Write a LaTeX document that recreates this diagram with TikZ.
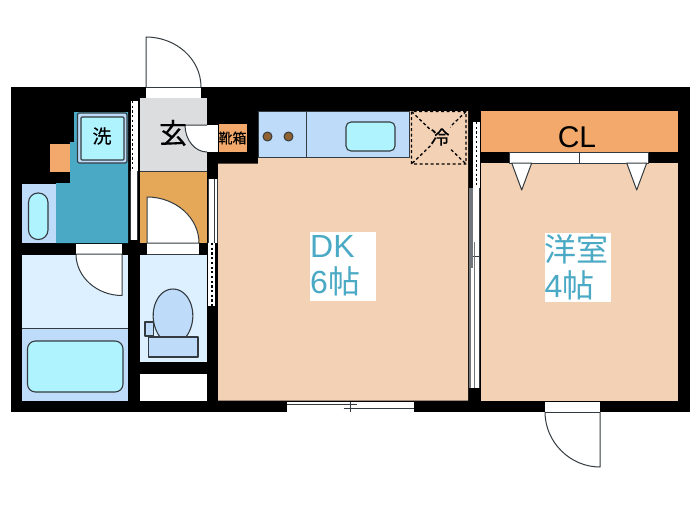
\documentclass[tikz,border=0pt]{standalone}
\usepackage{fontspec}
\setmainfont{Liberation Sans}
\newfontfamily\jpfont{Noto Sans CJK JP}
\newfontfamily\jpheavy[FakeBold=0.3]{Noto Sans CJK JP}
\definecolor{floorc}{HTML}{F2D1B4}
\definecolor{closetc}{HTML}{F2A96B}
\definecolor{entryc}{HTML}{E5A858}
\definecolor{tealc}{HTML}{4AA9C4}
\definecolor{bluec}{HTML}{BEDCFA}
\definecolor{palec}{HTML}{DDF0FF}
\definecolor{waterc}{HTML}{AFF3FF}
\definecolor{greyc}{HTML}{DCDDDF}
\definecolor{linec}{HTML}{333B40}
\tikzset{
	fix/.style={draw=linec,line width=1.1pt},
	doorline/.style={draw=linec,line width=1pt,fill=white},
	dots/.style={black,line width=1.3pt,dash pattern=on 2.2pt off 2.5pt},
	rail/.style={linec,line width=1pt},
	room/.style={font=\fontsize{32}{36}\selectfont,text=tealc,fill=white,align=left,inner sep=0pt,text width=66pt,minimum height=69pt},
	tag/.style={inner sep=0pt,font=\jpheavy\fontsize{#1}{#1}\selectfont}
}
\begin{document}
\begin{tikzpicture}[x=1pt,y=-1pt,line join=round]
	\useasboundingbox (0,0) rectangle (700,525);
	\fill[white] (0,0) rectangle (700,525);
	\fill[black] (10.5,86.5) rectangle (690,412);
	\fill[floorc] (218,163.5)--(258,163.5)--(258,157.5)--(409,157.5)--(409,111)--(468,111)--(468,400.5)--(218,400.5)--cycle;
	\fill[floorc] (481,163)rectangle(678,400.5);
	\fill[closetc] (480.5,111) rectangle (678,152);
	\fill[greyc] (139.5,98) rectangle (207,171);
	\fill[entryc] (139.5,171) rectangle (207,243);
	\draw[rail] (139.5,171)--(207,171);
	\fill[tealc] (74,112)--(128,112)--(128,243)--(56,243)--(56,183)--(70,183)--(70,142)--(74,142)--cycle;
	\fill[closetc] (49.5,144) rectangle (70,172);
	\fill[bluec] (22,184) rectangle (55.5,243);
	\fill[palec] (22,255) rectangle (128,328);
	\fill[bluec] (22,328) rectangle (128,400.5);
	\draw[rail] (22,328)--(128,328);
	\fill[palec] (139.5,255) rectangle (207,361.5);
	\fill[white] (139.5,373.5) rectangle (207,400.5);
	\fill[closetc] (218.5,124) rectangle (246.5,152);
	\filldraw[fill=bluec,draw=linec,line width=0.8pt] (258,111) rectangle (409,157.5);
	\draw[rail] (306.7,111)--(306.7,157.5);
	\draw[fix,fill=waterc,rounded corners=5pt] (346,122) rectangle (395,151);
	\foreach \bx in {267.5,288.5}
		{\draw[fill=brown!75!black,draw=linec,line width=1pt] (\bx,136.5) circle (4.5);}
	\draw[black,line width=1.3pt,dash pattern=on 3pt off 2.5pt] (411.5,111.5) rectangle (466,164)
		(411.5,111.5)--(466,164) (466,111.5)--(411.5,164);
	\fill[floorc] (431,125) rectangle (450,150);
	% washer and basin
	\draw[fix,fill=bluec,rounded corners=2pt] (77.5,113) rectangle (127,163);
	\draw[fix,fill=waterc,rounded corners=1pt] (81,117) rectangle (124,160);
	\draw[fix,fill=waterc,rounded corners=9.5pt] (28.5,193) rectangle (48,239.5);
	\draw[fix,fill=waterc,rounded corners=8pt] (27.5,341) rectangle (123,392);
	% toilet
	\draw[fix,fill=bluec] (160,337)..controls (146,318) and (155,289)..(173,289)
		..controls (191,289) and (200,318)..(186,337)--cycle;
	\draw[fix,fill=bluec] (148.5,337) rectangle (198,357);
	\draw[fix,fill=bluec] (145,322) rectangle (153.5,336);
	% doors
	\fill[white] (146,87) rectangle (201,97.5);
	\draw[doorline] (146,87)--(146,37)..controls (176,37) and (201,59)..(201,87);
	\draw[rail] (146,87)--(201,87);
	\fill[white] (147,243) rectangle (199,254);
	\draw[doorline] (147,243)--(147,197)..controls (176,197) and (199,218)..(199,243)--cycle;
	\draw[rail] (147,254)--(199,254);
	\fill[white] (76,244) rectangle (122,254);
	\draw[doorline] (122,254)--(122,295.5)..controls (97,295.5) and (76,277)..(76,254)--cycle;
	\fill[white] (207,125) rectangle (218,152);
	\draw[doorline] (207,125)--(185,125)..controls (185,140) and (195,152)..(207,152);
	\fill[white] (545,401.5) rectangle (600,412);
	\draw[doorline] (545,412)..controls (545,442) and (570,467)..(600,467)--(600,412);
	\draw[rail] (545,412)--(600,412);
	% sliding doors
	\fill[white] (130.5,101) rectangle (138,240);
	\draw[dots] (132.5,101)--(132.5,171);
	\draw[rail] (137.5,171)--(137.5,240) (130.5,171)--(130.5,240);
	\fill[white] (208,179) rectangle (217.5,243);
	\draw[rail] (208.5,179)--(208.5,243) (217,179)--(217,243) (214,179)--(214,243);
	\fill[white] (208,243) rectangle (215,306);
	\draw[dots] (212,243)--(212,306);
	\fill[white] (472.5,122) rectangle (479.5,188);
	\draw[dots] (476.5,122)--(476.5,188);
	\fill[white] (469,188) rectangle (480,388);
	\draw[rail] (479.5,188)--(479.5,388) (469,256)--(480,256);
	\draw[linec!70,line width=1.6pt] (470,188)--(470,388);
	\draw[linec!70,line width=1.2pt] (474.5,242)--(474.5,388) (472,188)--(472,268);
	% window and closet doors
	\fill[white] (286.5,401.5) rectangle (414,412);
	\draw[rail] (286.5,404)--(357,404) (343.5,408.5)--(414,408.5) (350,401.5)--(350,412);
	\draw[rail,fill=white] (509.5,152.5) rectangle (648.5,163);
	\draw[rail] (579,152.5)--(579,163);
	\foreach \tx in {511.7,626.7}
		{\draw[rail,fill=white] (\tx,163)--(\tx+20,163)--(\tx+10,190)--cycle;}
	% labels
	\node[room] (dk) at (343.2,266.2) {DK\\6{\jpfont 帖}};
	\node[room] (yoshitsu) at (577.7,267.2) {{\jpfont 洋室}\\4{\jpfont 帖}};
	\node[inner sep=0pt,font=\fontsize{30}{30}\selectfont] (cl) at (577,137) {CL};
	\node[tag=28] (genkan) at (173,133) {玄};
	\node[tag=19] (sentaku) at (102,136) {洗};
	\node[tag=19] (reizo) at (440,137) {冷};
	\node[tag=14] (kutsu) at (232.5,138) {靴箱};
\end{tikzpicture}
\end{document}
